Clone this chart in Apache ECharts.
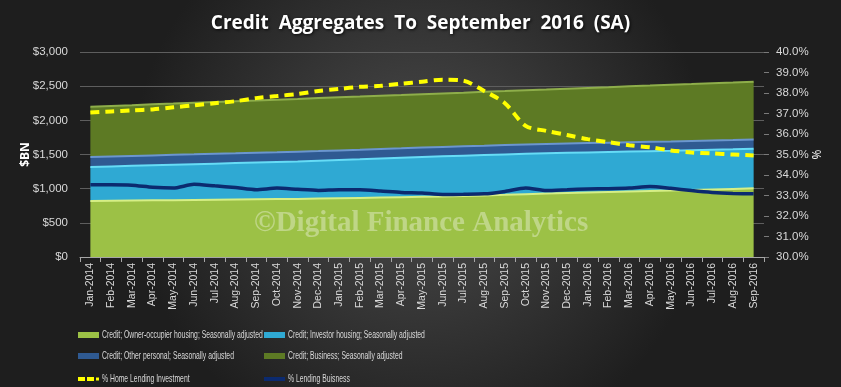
<!DOCTYPE html>
<html>
<head>
<meta charset="utf-8">
<script src="https://cdn.jsdelivr.net/npm/echarts@6/dist/echarts.min.js"></script>
<style>
html,body{margin:0;padding:0;background:#2a2a2a;}
#chart{width:841px;height:387px;}
</style>
</head>
<body>
<div id="chart"></div>
<script>
const months = ["Jan-2014","Feb-2014","Mar-2014","Apr-2014","May-2014","Jun-2014","Jul-2014","Aug-2014","Sep-2014","Oct-2014","Nov-2014","Dec-2014",
"Jan-2015","Feb-2015","Mar-2015","Apr-2015","May-2015","Jun-2015","Jul-2015","Aug-2015","Sep-2015","Oct-2015","Nov-2015","Dec-2015",
"Jan-2016","Feb-2016","Mar-2016","Apr-2016","May-2016","Jun-2016","Jul-2016","Aug-2016","Sep-2016"];

const ownerOccupier = [820,823,826,829,832,835,838,841,844,847,850,855,860,865,870,875,880,885,893,901,910,920,928,936,944,951,958,965,972,980,988,996,1005];
const investor = [496,502,508,513,518,523,528,533,538,543,549,554,559,564,570,576,582,588,590,591,591,590,589,588,587,586,585,584,583,582,581,580,579];
const otherPersonal = [146,146,145,145,145,144,144,143,143,142,142,141,141,140,140,139,139,138,138,137,137,136,136,136,136,136,136,136,136,136,136,136,136];
const business = [738,740,743,747,750,755,758,763,766,771,773,776,777,779,780,781,782,783,784,788,790,794,798,803,807,812,818,823,829,833,838,842,846];

const pctHomeInvestment = [37.05,37.1,37.15,37.2,37.3,37.4,37.5,37.6,37.75,37.85,37.95,38.1,38.2,38.3,38.35,38.45,38.55,38.65,38.6,38.1,37.5,36.4,36.15,35.95,35.75,35.6,35.45,35.35,35.2,35.1,35.05,35.0,34.95];
const pctLendingBusiness = [33.52,33.52,33.5,33.4,33.36,33.55,33.47,33.39,33.28,33.36,33.3,33.25,33.28,33.28,33.22,33.15,33.12,33.05,33.06,33.08,33.2,33.36,33.24,33.28,33.32,33.33,33.36,33.44,33.35,33.24,33.15,33.1,33.08];

const leftTicks = {min:0, max:3000, interval:500};
const rightTicks = {min:30, max:40, interval:1};

const names = {
  owner: "Credit; Owner-occupier housing; Seasonally adjusted",
  investor: "Credit; Investor housing; Seasonally adjusted",
  other: "Credit; Other personal; Seasonally adjusted",
  business: "Credit; Business; Seasonally adjusted",
  home: "% Home Lending Investment",
  lend: "% Lending Buisness"
};

const chart = echarts.init(document.getElementById('chart'), null, {renderer:'canvas'});
const labelFont = '"Liberation Sans",Arial,sans-serif';

function areaSeries(name, data, fill, edge, z){
  return {
    name: name, type:'line', stack:'credit', data:data, yAxisIndex:0,
    symbol:'none', z:z,
    lineStyle:{color:edge, width:2},
    itemStyle:{color:fill, borderColor:edge},
    areaStyle:{color:fill, opacity:1}
  };
}

const dashIcon = 'path://M0,0h7v4h-7z M9,0h7v4h-7z M18,0.5h3v3h-3z';

// legend: icons from the ECharts legend, condensed label text beside each icon
const legendLayout = [
  [names.owner, 78, 335, 'rect', 6],
  [names.investor, 264, 335, 'rect', 6],
  [names.other, 78, 356, 'rect', 6],
  [names.business, 264, 356, 'rect', 6],
  [names.home, 78, 379, dashIcon, 4],
  [names.lend, 264, 379, 'rect', 4]
];

const legends = legendLayout.map(([name, x, cy, icon, h]) => ({
  left:x, top:cy - h/2, padding:0, itemWidth:21, itemHeight:h, itemGap:0,
  data:[name], icon:icon, formatter:() => '',
  textStyle:{fontSize:1, lineHeight:1, padding:0}
}));

const legendTexts = legendLayout.map(([name, x, cy]) => ({
  type:'text', x:x + 24, y:cy, scaleX:0.62, silent:true, z:100,
  style:{text:name, fill:'#d9d9d9', font:'11px "Liberation Sans",Arial,sans-serif',
    verticalAlign:'middle', align:'left'}
}));

const option = {
  animation:false,
  backgroundColor:{type:'radial', x:0.5, y:0.45, r:0.75,
    colorStops:[{offset:0,color:'#4c4c4c'},{offset:1,color:'#1e1e1e'}]},
  title:{
    text:'Credit  Aggregates  To  September  2016  (SA)',
    left:'center', top:9,
    textStyle:{color:'#ffffff', fontSize:19, fontWeight:'bold', fontFamily:'"Open Sans",sans-serif',
      textShadowColor:'rgba(0,0,0,0.8)', textShadowBlur:3, textShadowOffsetX:1, textShadowOffsetY:1}
  },
  grid:{left:80, right:77, top:52, bottom:130},
  legend:legends,
  xAxis:{
    type:'category', data:months, boundaryGap:true,
    axisLine:{lineStyle:{color:'#a6a6a6'}},
    axisTick:{show:true, interval:0, alignWithLabel:false, length:5, lineStyle:{color:'#a6a6a6'}},
    axisLabel:{interval:0, rotate:90, color:'#d9d9d9', fontSize:10.5, fontFamily:labelFont, margin:6}
  },
  yAxis:[
    {type:'value', min:leftTicks.min, max:leftTicks.max, interval:leftTicks.interval,
     name:'$BN', nameLocation:'middle', nameGap:48, nameRotate:90, nameMoveOverlap:false,
     nameTextStyle:{color:'#ffffff', fontWeight:'bold', fontSize:12, fontFamily:'"Open Sans",sans-serif'},
     axisLine:{show:false}, axisTick:{show:false},
     splitLine:{lineStyle:{color:'#5e5e5e', width:1}},
     axisLabel:{color:'#d9d9d9', fontSize:11.5, fontFamily:labelFont, margin:12,
       formatter:v=>'$'+v.toLocaleString('en-US')}},
    {type:'value', min:rightTicks.min, max:rightTicks.max, interval:rightTicks.interval,
     name:'%', nameLocation:'middle', nameGap:48, nameRotate:90, nameMoveOverlap:false,
     nameTextStyle:{color:'#ffffff', fontSize:12, fontFamily:'"Open Sans",sans-serif'},
     axisLine:{show:false}, axisTick:{show:true, length:5, lineStyle:{color:'#7a7a7a'}},
     splitLine:{show:false},
     axisLabel:{color:'#d9d9d9', fontSize:11.5, fontFamily:labelFont, margin:12,
       formatter:v=>v.toFixed(1)+'%'}}
  ],
  graphic:[{
    type:'text', left:254, top:209, z:100, silent:true,
    style:{text:'©Digital Finance Analytics', fill:'rgba(235,240,215,0.45)',
      font:'bold 29px "Liberation Serif","DejaVu Serif",serif'}
  }].concat(legendTexts),
  series:[
    areaSeries(names.owner, ownerOccupier, '#9cc146', '#d6ef86', 2),
    areaSeries(names.investor, investor, '#2fa9d3', '#66dcf6', 2),
    areaSeries(names.other, otherPersonal, '#2f5a92', '#6b96cf', 2),
    areaSeries(names.business, business, '#5d7a24', '#8eae4a', 2),
    {name:names.home, type:'line', yAxisIndex:1, data:pctHomeInvestment, symbol:'none', smooth:0.3, z:5,
     lineStyle:{color:'#ffff00', width:4, type:[9,6]}, itemStyle:{color:'#ffff00'}},
    {name:names.lend, type:'line', yAxisIndex:1, data:pctLendingBusiness, symbol:'none', smooth:0.2, z:5,
     lineStyle:{color:'#0b2a6f', width:3.5}, itemStyle:{color:'#0b2a6f'}}
  ]
};
chart.setOption(option);
</script>
</body>
</html>
